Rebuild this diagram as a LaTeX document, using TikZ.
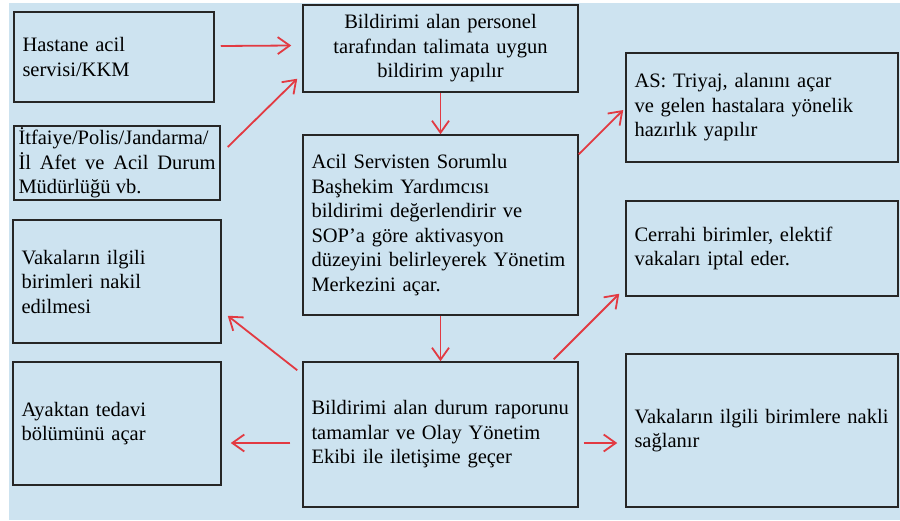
\documentclass[tikz,border=0pt]{standalone}
\usepackage{fontspec}
\setmainfont{Liberation Serif}
\usetikzlibrary{arrows.meta}
\definecolor{bgblue}{RGB}{205,227,240}
\definecolor{arrred}{RGB}{226,58,66}
\begin{document}
\begin{tikzpicture}[x=1pt,y=-1pt,font=\fontsize{20.5}{24.5}\selectfont,
  box/.style={draw=black!85,line width=1.5pt,inner xsep=8.5pt,inner ysep=0pt,align=left},
  arr/.style={->,draw=arrred,line width=1.8pt},
  >={Straight Barb[length=12pt,width=17pt]}]
  \useasboundingbox (0,0) rectangle (900,520);
  \fill[bgblue] (9,3) rectangle (900,520);
  \node[box,minimum width=200pt,minimum height=90pt,text width=183pt] (hastane) at (114,57) {Hastane acil\\servisi/KKM};
  \node[box,minimum width=206pt,minimum height=74pt,text width=197pt,inner xsep=4.5pt,align=justify] (itfaiye) at (117,163)
    {İtfaiye/Polis/Jandarma/\linebreak İl Afet ve Acil Durum\linebreak Müdürlüğü vb.};
  \node[box,minimum width=208pt,minimum height=123pt,text width=191pt] (nakil) at (117,281.5) {Vakaların ilgili\\birimleri nakil\\edilmesi};
  \node[box,minimum width=208pt,minimum height=123pt,text width=191pt] (ayaktan) at (117,423.5) {Ayaktan tedavi\\bölümünü açar};
  \node[box,minimum width=275pt,minimum height=87pt,text width=258pt,align=center] (bildirim) at (440.5,48.5)
    {Bildirimi alan personel\\tarafından talimata uygun\\bildirim yapılır};
  \node[box,minimum width=275pt,minimum height=180pt,text width=258pt] (sorumlu) at (440.5,225)
    {Acil Servisten Sorumlu\\Başhekim Yardımcısı\\bildirimi değerlendirir ve\\SOP’a göre aktivasyon\\\mbox{düzeyini belirleyerek Yönetim}\\Merkezini açar.};
  \node[box,minimum width=275pt,minimum height=145pt,text width=258pt] (rapor) at (440.5,434.5)
    {\mbox{Bildirimi alan durum raporunu}\\tamamlar ve Olay Yönetim\\Ekibi ile iletişime geçer};
  \node[box,minimum width=272pt,minimum height=109pt,text width=255pt] (triyaj) at (762,107.5)
    {AS: Triyaj, alanını açar\\ve gelen hastalara yönelik\\hazırlık yapılır};
  \node[box,minimum width=272pt,minimum height=95pt,text width=255pt] (cerrahi) at (762,248.5)
    {Cerrahi birimler, elektif\\vakaları iptal eder.};
  \node[box,minimum width=272pt,minimum height=153pt,text width=255pt] (birimler) at (762,430.5)
    {\mbox{Vakaların ilgili birimlere nakli}\\sağlanır};
  \draw[arr] ([shift={(6,-11)}]hastane.east) -- ([shift={(-11,-3)}]bildirim.west);
  \draw[arr] ([shift={(7,-16)}]itfaiye.east) -- ([shift={(-5,-14)}]bildirim.south west);
  \draw[arr] (bildirim) -- (sorumlu);
  \draw[arr] ([shift={(0,20)}]sorumlu.north east) -- ([shift={(-2,2.5)}]triyaj.west);
  \draw[arr] (sorumlu) -- (rapor);
  \draw[arr] ([shift={(-25,-2)}]rapor.north east) -- ([shift={(-6,-3)}]cerrahi.south west);
  \draw[arr] ([shift={(-5,9)}]rapor.north west) -- ([shift={(6,-28)}]nakil.south east);
  \draw[arr] ([shift={(-12,8.5)}]rapor.west) -- ([shift={(9,19.5)}]ayaktan.east);
  \draw[arr] ([shift={(5,8.5)}]rapor.east) -- ([shift={(-8,12.5)}]birimler.west);
\end{tikzpicture}
\end{document}
